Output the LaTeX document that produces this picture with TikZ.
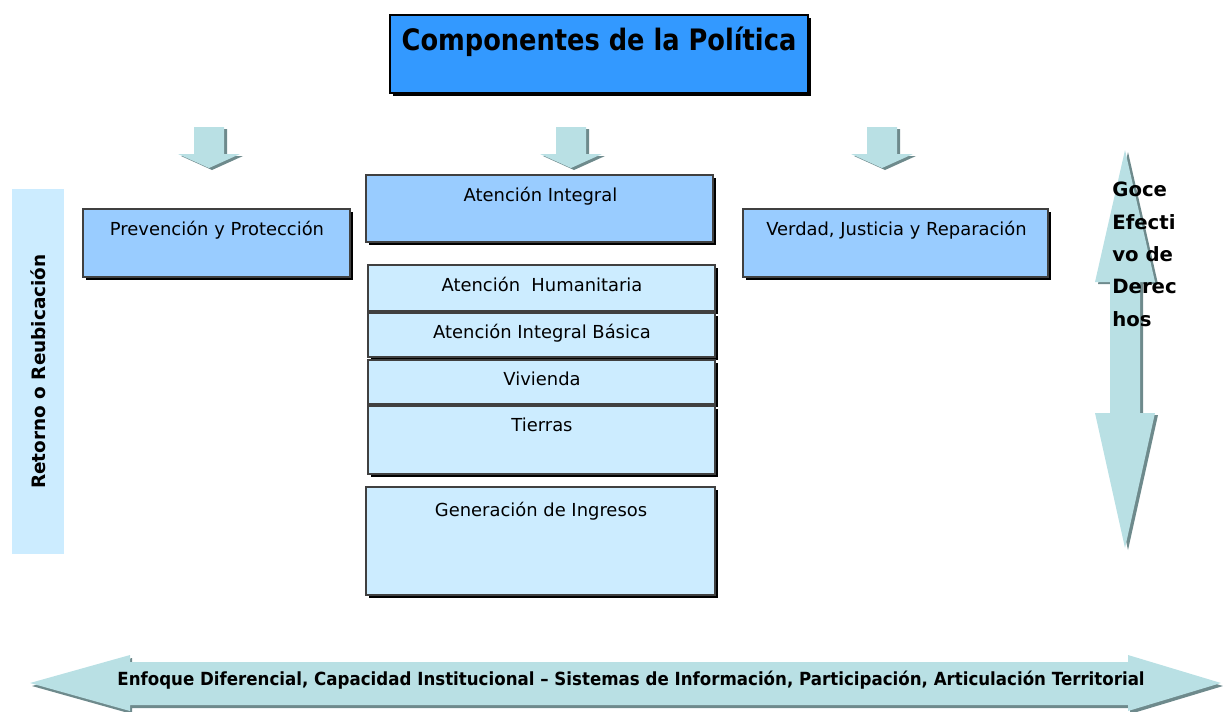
\documentclass[tikz,border=0pt]{standalone}
\usepackage{fontspec}
\setmainfont{DejaVu Sans}
\newfontfamily\titlefont[FakeStretch=0.87]{DejaVu Sans}
\newfontfamily\bandfont[FakeStretch=0.92]{DejaVu Sans}
\usetikzlibrary{positioning,shadows}

\definecolor{titleblue}{RGB}{51,153,255}
\definecolor{midblue}{RGB}{153,204,255}
\definecolor{paleblue}{RGB}{204,236,255}
\definecolor{arrowteal}{RGB}{185,224,228}
\definecolor{arrowshade}{RGB}{110,138,140}

\tikzset{
  box/.style={draw=black!75, line width=1.1pt, inner sep=0pt,
    drop shadow={shadow xshift=1.6pt, shadow yshift=-1.6pt, fill=black, opacity=1}},
  lbl/.style={inner sep=0pt, anchor=base, font=\fontsize{10.2}{12}\selectfont},
  boldlbl/.style={inner sep=0pt, font=\bfseries\fontsize{10.5}{12}\selectfont},
}

\begin{document}
\begin{tikzpicture}[x=0.02cm, y=-0.02cm]
        \useasboundingbox (0,0) rectangle (1223,711);

        % title
        \node[box, fill=titleblue, draw=black, minimum width=8.36cm, minimum height=1.56cm] (titulo) at (599,54) {};
        \node[lbl, font=\titlefont\bfseries\fontsize{16.8}{18}\selectfont] (titulo-txt) at (599,50) {Componentes de la Política};

        % small arrows under the title
        \foreach \cx in {209, 571, 882} {
          \fill[arrowshade] (\cx-12,129) -- (\cx+18,129) -- (\cx+18,156) -- (\cx+34,156)
            -- (\cx+3,170) -- (\cx-28,156) -- (\cx-12,156) -- cycle;
          \fill[arrowteal] (\cx-15,127) -- (\cx+15,127) -- (\cx+15,154) -- (\cx+31,154)
            -- (\cx,168) -- (\cx-31,154) -- (\cx-15,154) -- cycle;
        }

        % the three columns
        \node[box, fill=midblue, minimum width=5.34cm, minimum height=1.36cm] (prev) at (216.5,243) {};
        \node[lbl] (prev-txt) at (217,235) {Prevención y Protección};

        \node[box, fill=midblue, minimum width=6.94cm, minimum height=1.34cm] (ai) at (539.5,208.5) {};
        \node[lbl] (ai-txt) at (540.5,201) {Atención Integral};

        \node[box, fill=midblue, minimum width=6.1cm, minimum height=1.36cm] (verdad) at (895.5,243) {};
        \node[lbl] (verdad-txt) at (896.5,235) {Verdad, Justicia y Reparación};

        % stack under Atencion Integral
        \node[box, fill=paleblue, minimum width=6.94cm, minimum height=0.92cm] (hum) at (541.5,288) {};
        \node[lbl] (hum-txt) at (542,291) {Atención~ Humanitaria};
        \node[box, fill=paleblue, minimum width=6.94cm, minimum height=0.88cm] (basica) at (541.5,335) {};
        \node[lbl] (basica-txt) at (542,338) {Atención Integral Básica};
        \node[box, fill=paleblue, minimum width=6.94cm, minimum height=0.88cm] (viv) at (541.5,382) {};
        \node[lbl] (viv-txt) at (542,385) {Vivienda};
        \node[box, fill=paleblue, minimum width=6.94cm, minimum height=1.36cm] (tierras) at (541.5,440) {};
        \node[lbl] (tierras-txt) at (542,431) {Tierras};
        \node[box, fill=paleblue, minimum width=6.98cm, minimum height=2.16cm] (ingresos) at (540.5,541) {};
        \node[lbl] (ingresos-txt) at (541,516) {Generación de Ingresos};

        % left bar
        \node[boldlbl, fill=paleblue, rotate=90, minimum width=7.3cm, minimum height=1.06cm] (retorno) at (38,371.5) {Retorno o Reubicación};

        % vertical double arrow
        \fill[arrowshade] (1128,152) -- (1158,284) -- (1143,284) -- (1143,415) -- (1158,415)
          -- (1128,550) -- (1098,415) -- (1113,415) -- (1113,284) -- (1098,284) -- cycle;
        \fill[arrowteal] (1125,150) -- (1155,282) -- (1140,282) -- (1140,413) -- (1155,413)
          -- (1125,548) -- (1095,413) -- (1110,413) -- (1110,282) -- (1095,282) -- cycle;
        \node[boldlbl, font=\bfseries\fontsize{11.2}{18.4}\selectfont, align=left, anchor=north west] (goce) at (1112,182)
          {Goce\\Efecti\\vo de\\Derec\\hos};

        % horizontal double arrow
        \fill[arrowshade] (32,686) -- (132,658) -- (132,665) -- (1130,665) -- (1130,658)
          -- (1223,686) -- (1130,714) -- (1130,708) -- (132,708) -- (132,714) -- cycle;
        \fill[arrowteal] (30,683) -- (130,655) -- (130,662) -- (1128,662) -- (1128,655)
          -- (1221,683) -- (1128,711) -- (1128,705) -- (130,705) -- (130,711) -- cycle;
        \node[boldlbl, font=\bandfont\bfseries\fontsize{10.3}{12}\selectfont, anchor=base] (enfoque) at (631,685)
          {Enfoque Diferencial, Capacidad Institucional – Sistemas de Información, Participación, Articulación Territorial};
\end{tikzpicture}
\end{document}
